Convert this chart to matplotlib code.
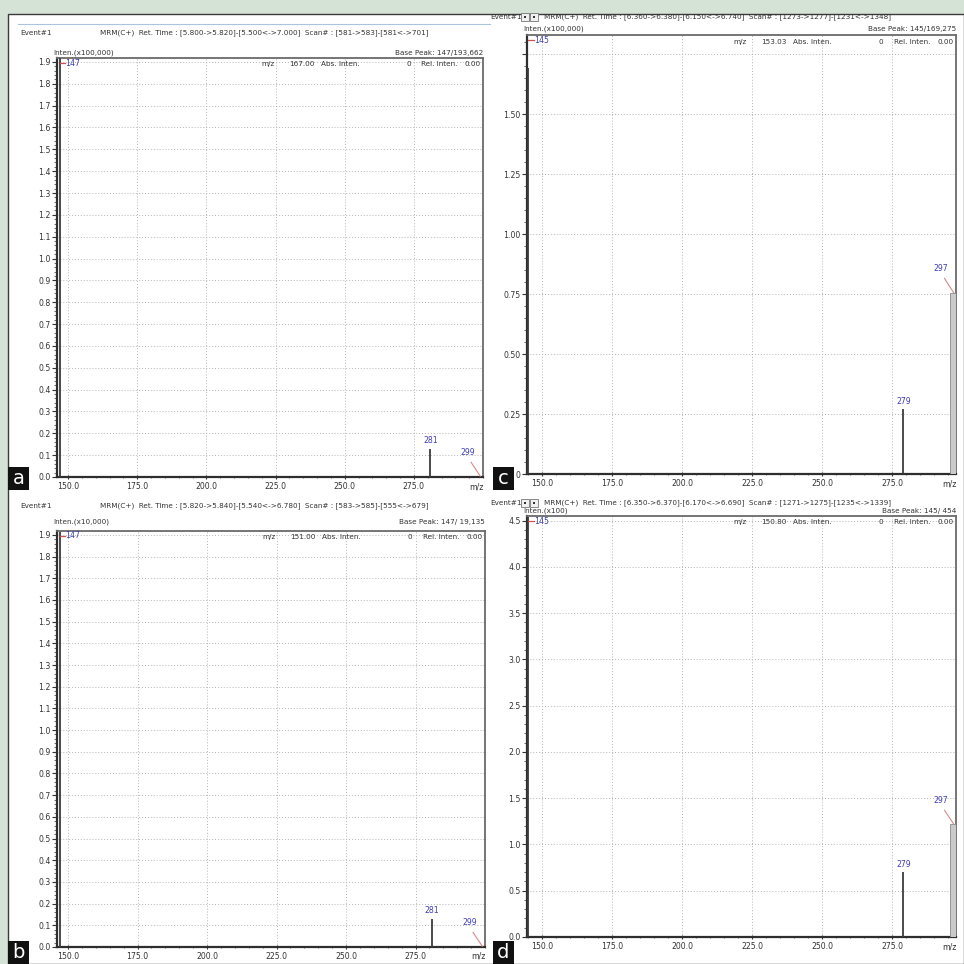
import matplotlib
matplotlib.use("Agg")
import matplotlib.pyplot as plt
from matplotlib.patches import Rectangle
from matplotlib.lines import Line2D
from matplotlib.ticker import MultipleLocator, FuncFormatter

plt.rcParams['font.family'] = ['DejaVu Sans']

W = 964  # canvas size in pixels

# --- spectra (intensity in units of the panel's scale factor) ---
a_mz = [147, 281, 299]
a_int = [1.93662, 0.13, 0.004]
b_mz = [147, 281, 299]
b_int = [1.9135, 0.13, 0.004]
c_mz = [145, 279, 297]
c_int = [1.69275, 0.27, 0.755]
d_mz = [145, 279, 297]
d_int = [4.54, 0.70, 1.22]

x_ticks = [150, 175, 200, 225, 250, 275]

a_header = ["Event#1", "MRM(C+)  Ret. Time : [5.800->5.820]-[5.500<->7.000]  Scan# : [581->583]-[581<->701]",
            "Inten.(x100,000)", "Base Peak: 147/193,662", "167.00"]
b_header = ["Event#1", "MRM(C+)  Ret. Time : [5.820->5.840]-[5.540<->6.780]  Scan# : [583->585]-[555<->679]",
            "Inten.(x10,000)", "Base Peak: 147/ 19,135", "151.00"]
c_header = ["Event#1", "MRM(C+)  Ret. Time : [6.360->6.380]-[6.150<->6.740]  Scan# : [1273->1277]-[1231<->1348]",
            "Inten.(x100,000)", "Base Peak: 145/169,275", "153.03"]
d_header = ["Event#1", "MRM(C+)  Ret. Time : [6.350->6.370]-[6.170<->6.690]  Scan# : [1271->1275]-[1235<->1339]",
            "Inten.(x100)", "Base Peak: 145/ 454", "150.80"]

PEAK = '#3c3c3c'
LABEL = '#3f3fb4'
LEADER = '#d48c8c'
GRID = '#b4b4b4'
BG = '#d5e3d7'
TXT = '#333333'
FS = 5.6

fig = plt.figure(figsize=(W / 100, W / 100), dpi=100, facecolor=BG)


def fx(px):
    return px / W


def fy(py):
    return 1 - py / W


# white window with dark edge
fig.add_artist(Rectangle((fx(8), 0), 1 - fx(8), fy(14), transform=fig.transFigure,
                         facecolor='white', edgecolor='#3a3a3a', lw=1.0, zorder=0))
fig.add_artist(Line2D([fx(18), fx(490)], [fy(24), fy(24)], transform=fig.transFigure,
                      color='#a8c4e0', lw=0.8))


def panel(box, xlim, ylim, ymaj, ymin, yfmt, mz, inten, header, hdr_y, side_label, big_right=False):
    left, top, right, bottom = box
    ax = fig.add_axes([fx(left), fy(bottom), fx(right - left), fy(top) - fy(bottom)])
    ax.set_xlim(*xlim)
    ax.set_ylim(*ylim)
    ax.set_facecolor('white')

    ax.xaxis.set_minor_locator(MultipleLocator(5))
    ax.set_xticks(x_ticks)
    ax.set_xticklabels([f"{t:.1f}" for t in x_ticks])
    ax.yaxis.set_major_locator(MultipleLocator(ymaj))
    ax.yaxis.set_minor_locator(MultipleLocator(ymin))
    ax.yaxis.set_major_formatter(FuncFormatter(yfmt))

    ax.tick_params(axis='both', labelsize=FS, colors=TXT, length=3.5, width=0.8)
    ax.tick_params(axis='x', direction='inout', pad=2)
    ax.tick_params(axis='y', direction='out', pad=1)
    ax.tick_params(which='minor', length=2, width=0.6, color='#555555')
    ax.tick_params(axis='x', which='minor', direction='inout')

    ax.grid(True, which='major', color=GRID, lw=0.7, linestyle=(0, (1, 2)))
    ax.set_axisbelow(True)

    for s in ('left', 'bottom'):
        ax.spines[s].set_color('#2e2e2e')
        ax.spines[s].set_linewidth(1.6)
    for s in ('top', 'right'):
        ax.spines[s].set_color('#6a6a6a')
        ax.spines[s].set_linewidth(1.3)

    # peaks
    ax.vlines(mz[:2], 0, inten[:2], color=PEAK, lw=1.3, zorder=3)
    if big_right:
        ax.bar(mz[2], inten[2], width=2.4, color='#cacaca', edgecolor='#8a8a8a', lw=0.6, zorder=3)
    else:
        ax.vlines(mz[2], 0, inten[2], color=PEAK, lw=1.3, zorder=3)

    top_y = ylim[1]
    # base peak label at the top-left
    ax.plot([mz[0], mz[0] + 2.0], [top_y * 0.988, top_y * 0.988], color='#d05050', lw=0.9, zorder=4, clip_on=False)
    ax.text(mz[0] + 2.0, top_y * 0.988, str(mz[0]), color=LABEL, fontsize=FS, va='center', ha='left')
    # middle peak label above the stick
    ax.text(mz[1], inten[1] + top_y * 0.008, str(mz[1]), color=LABEL, fontsize=FS, va='bottom', ha='center')
    # right-edge peak label offset up-left with a leader line
    lx = mz[2] - 4.5
    ly = inten[2] + top_y * 0.045
    ax.plot([lx + 1.2, mz[2]], [ly - top_y * 0.012, inten[2]], color=LEADER, lw=0.8, zorder=4)
    ax.text(lx, ly, str(mz[2]), color=LABEL, fontsize=FS, va='bottom', ha='center')

    # m/z axis tag
    ax.text(xlim[1] - 2.5, -top_y * 0.012, "m/z", fontsize=FS, color=TXT, ha='center', va='top')

    # readout row inside the frame
    row_y = top_y * 0.985
    span = xlim[1] - xlim[0]
    fs = FS - 0.4
    ax.text(xlim[0] + span * 0.48, row_y, "m/z", fontsize=fs, color=TXT, va='center')
    ax.text(xlim[0] + span * 0.545, row_y, header[4], fontsize=fs, color=TXT, va='center')
    ax.text(xlim[0] + span * 0.62, row_y, "Abs. Inten.", fontsize=fs, color=TXT, va='center')
    ax.text(xlim[0] + span * 0.82, row_y, "0", fontsize=fs, color=TXT, va='center')
    ax.text(xlim[0] + span * 0.855, row_y, "Rel. Inten.", fontsize=fs, color=TXT, va='center')
    ax.text(xlim[0] + span * 0.995, row_y, "0.00", fontsize=fs, color=TXT, va='center', ha='right')

    # header lines above the axes
    ev_y, in_y = hdr_y
    fig.text(fx(left - 37), fy(ev_y), header[0], fontsize=fs, color=TXT, va='center')
    fig.text(fx(left + 43) if not big_right else fx(left + 17), fy(ev_y), header[1],
             fontsize=fs, color=TXT, va='center')
    if big_right:
        # small navigation buttons next to the event label
        for bx in (left - 6, left + 3):
            fig.add_artist(Rectangle((fx(bx), fy(ev_y + 4)), fx(8), fy(ev_y - 4) - fy(ev_y + 4),
                                     transform=fig.transFigure, facecolor='#f0f0f0',
                                     edgecolor='#777777', lw=0.6))
            fig.add_artist(Rectangle((fx(bx + 3), fy(ev_y + 1)), fx(2), fy(ev_y - 1) - fy(ev_y + 1),
                                     transform=fig.transFigure, facecolor='#333333',
                                     edgecolor='none'))
    fig.text(fx(left - 4), fy(in_y), header[2], fontsize=fs, color=TXT, va='center')
    fig.text(fx(right), fy(in_y), header[3], fontsize=fs, color=TXT, va='center', ha='right')

    # panel letter
    lx0, ly0 = side_label[1]
    fig.add_artist(Rectangle((fx(lx0), fy(ly0 + 23)), fx(21), fy(ly0) - fy(ly0 + 23),
                             transform=fig.transFigure, facecolor='#111111', edgecolor='none', zorder=5))
    fig.text(fx(lx0 + 10.5), fy(ly0 + 12), side_label[0], color='white', fontsize=14,
             ha='center', va='center', zorder=6)
    return ax


def fmt1(v, _):
    return f"{v:.1f}"


def fmt_c(v, _):
    if abs(v) < 1e-9:
        return "0"
    return f"{v:.2f}" if v < 1.6 else ""


panel((57, 58, 483, 477), (146, 300), (0, 1.918), 0.1, 0.02, fmt1,
      a_mz, a_int, a_header, (33, 53), ('a', (8, 467)))
panel((57, 531, 485, 947), (146, 300), (0, 1.918), 0.1, 0.02, fmt1,
      b_mz, b_int, b_header, (506, 522), ('b', (8, 941)))
panel((527, 35, 956, 474), (144.5, 297.8), (0, 1.83), 0.25, 0.05, fmt_c,
      c_mz, c_int, c_header, (17, 29), ('c', (493, 467)), big_right=True)
panel((527, 516, 956, 937), (144.5, 297.8), (0, 4.55), 0.5, 0.1, fmt1,
      d_mz, d_int, d_header, (503, 511), ('d', (493, 941)), big_right=True)

fig.savefig("out.png", dpi=100, facecolor=BG)
